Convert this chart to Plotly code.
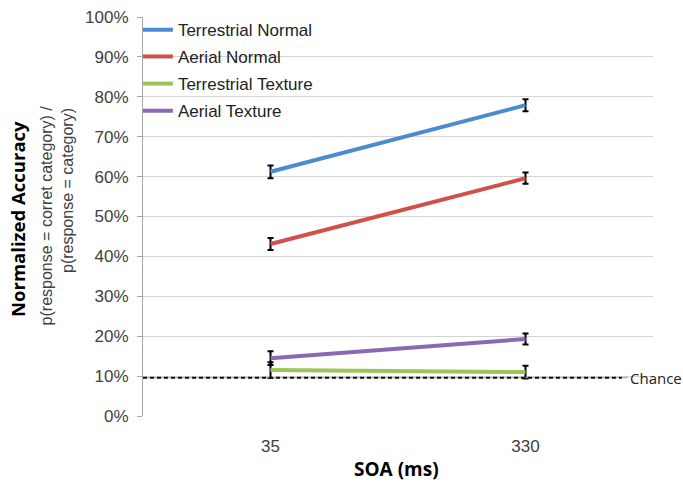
import plotly.graph_objects as go

# SOA conditions (ms) and normalized accuracy per condition
soa = ["35", "330"]
series_names = ["Terrestrial Normal", "Aerial Normal", "Terrestrial Texture", "Aerial Texture"]
accuracy = {
    "Terrestrial Normal": [0.612, 0.779],
    "Aerial Normal": [0.431, 0.596],
    "Terrestrial Texture": [0.115, 0.110],
    "Aerial Texture": [0.145, 0.193],
}
errors = {
    "Terrestrial Normal": [0.016, 0.015],
    "Aerial Normal": [0.015, 0.014],
    "Terrestrial Texture": [0.020, 0.016],
    "Aerial Texture": [0.017, 0.014],
}
colors = {
    "Terrestrial Normal": "#4A8CCF",
    "Aerial Normal": "#D0504A",
    "Terrestrial Texture": "#9BC45A",
    "Aerial Texture": "#8A68B3",
}
chance_level = 0.096
y_ticks = [i / 10 for i in range(11)]

# one legend per series, stacked down the top-left corner
legend_ids = ["legend", "legend2", "legend3", "legend4"]
legend_y = [0.967, 0.900, 0.832, 0.764]

fig = go.Figure()
for name, lid in zip(series_names, legend_ids):
    fig.add_trace(go.Scatter(
        x=soa, y=accuracy[name], name=name, mode="lines",
        line=dict(color=colors[name], width=4),
        error_y=dict(type="data", array=errors[name], color="black",
                     thickness=2, width=3),
        legend=lid,
    ))

# white panel behind the legend entries
fig.add_shape(type="rect", xref="paper", yref="paper", x0=0.004, x1=0.357,
              y0=0.725, y1=1.02, fillcolor="white", line=dict(width=0),
              layer="below")

# chance level: thin grey guide with a black dashed line over it
fig.add_shape(type="line", xref="paper", yref="y", x0=0, x1=0.951,
              y0=chance_level, y1=chance_level,
              line=dict(color="#9a9a9a", width=1))
fig.add_shape(type="line", xref="paper", yref="y", x0=0, x1=0.939,
              y0=chance_level, y1=chance_level,
              line=dict(color="#111111", width=2, dash="4px,3px"))
fig.add_annotation(text="Chance", xref="paper", yref="y", x=0.950,
                   y=chance_level, xanchor="left", yanchor="middle",
                   showarrow=False,
                   font=dict(family="Open Sans", size=15, color="#222222"))

# y axis titles
fig.add_annotation(text="<b>Normalized Accuracy</b>", xref="paper", yref="paper",
                   x=-0.245, y=0.494, textangle=-90, showarrow=False,
                   xanchor="center", yanchor="middle",
                   font=dict(family="Open Sans", size=18.5, color="#000000"))
fig.add_annotation(text="p(response = corret category) /", xref="paper", yref="paper",
                   x=-0.190, y=0.503, textangle=-90, showarrow=False,
                   xanchor="center", yanchor="middle",
                   font=dict(family="Liberation Sans", size=16, color="#404040"))
fig.add_annotation(text="p(response = category)", xref="paper", yref="paper",
                   x=-0.147, y=0.564, textangle=-90, showarrow=False,
                   xanchor="center", yanchor="middle",
                   font=dict(family="Liberation Sans", size=16, color="#404040"))

# x axis title
fig.add_annotation(text="<b>SOA (ms)</b>", xref="paper", yref="paper",
                   x=0.498, y=-0.133, showarrow=False,
                   xanchor="center", yanchor="middle",
                   font=dict(family="Open Sans", size=19, color="#000000"))

legend_style = dict(x=-0.01, xanchor="left", yanchor="middle",
                    bgcolor="rgba(0,0,0,0)", borderwidth=0,
                    font=dict(family="Liberation Sans", size=17, color="#222222"),
                    itemwidth=30)

fig.update_layout(
    width=683, height=483,
    margin=dict(l=143, r=30, t=17, b=67),
    paper_bgcolor="white", plot_bgcolor="white",
    showlegend=True,
    xaxis=dict(type="category", range=[-0.5, 1.5], showgrid=False,
               showline=False, ticks="", ticklabelstandoff=18,
               automargin=False,
               tickfont=dict(family="Liberation Sans", size=17, color="#404040")),
    yaxis=dict(range=[0, 1], tickvals=y_ticks, tickformat=".0%",
               showgrid=True, gridcolor="#d4d4d4", gridwidth=1,
               showline=True, linecolor="#a8a8a8", linewidth=1,
               ticks="outside", ticklen=5, tickcolor="#a8a8a8",
               ticklabelstandoff=5, automargin=False,
               tickfont=dict(family="Liberation Sans", size=17, color="#404040"),
               zeroline=False),
)
for lid, ly in zip(legend_ids, legend_y):
    fig.update_layout({lid: dict(legend_style, y=ly)})

fig.write_html("out.html")
